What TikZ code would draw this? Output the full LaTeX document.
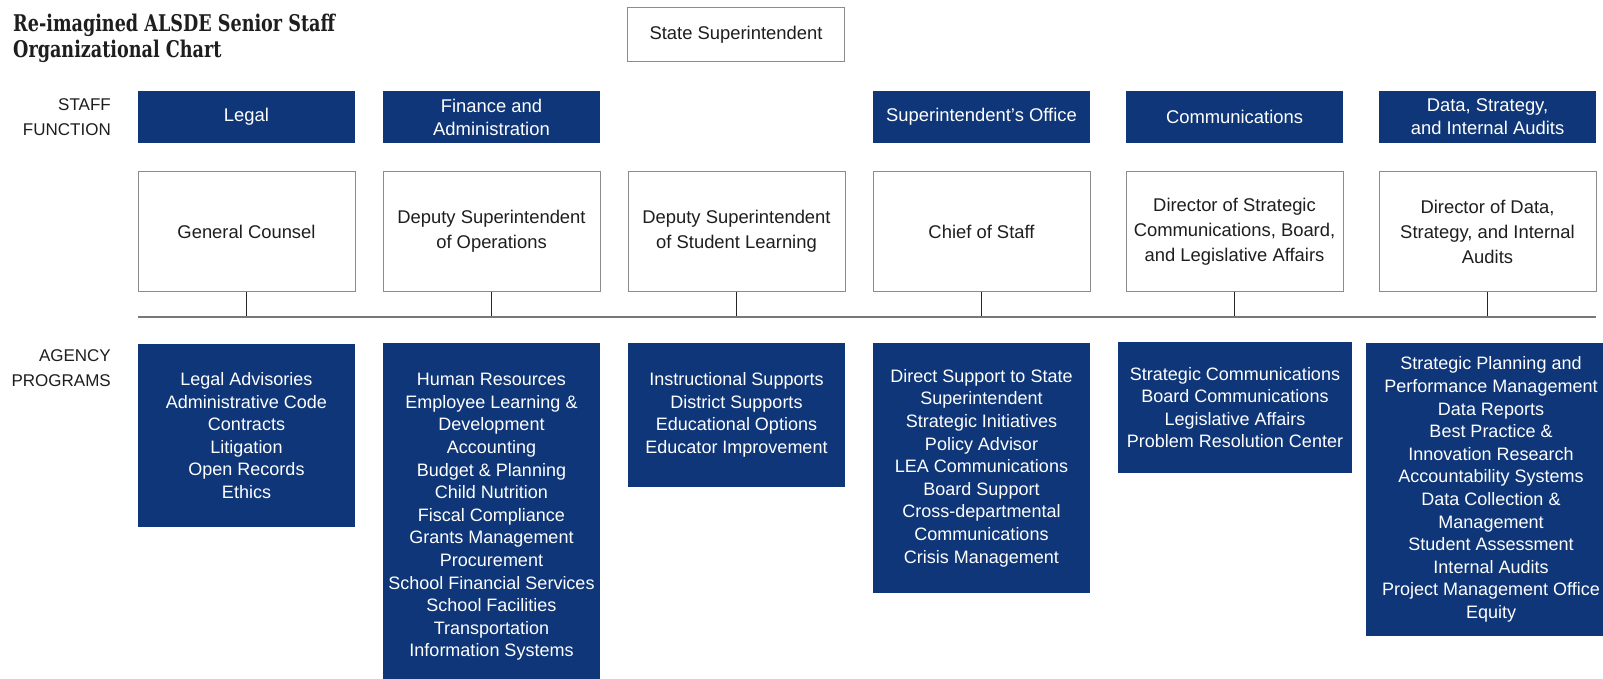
\documentclass[tikz,border=0pt]{standalone}
\usepackage{fontspec}
\setmainfont{Liberation Sans}
\newfontfamily\titlefont[FakeStretch=0.85]{DejaVu Serif Condensed}
\definecolor{navy}{RGB}{14,54,120}
\definecolor{boxline}{RGB}{140,140,140}
\definecolor{txt}{RGB}{30,30,30}
\definecolor{hline}{RGB}{120,120,120}
\begin{document}
\begin{tikzpicture}[x=1pt,y=-1pt,
  fnbox/.style={fill=navy, text=white, minimum width=217pt, minimum height=52pt, inner sep=0pt, align=center, font=\fontsize{18.4}{23}\selectfont},
  rolebox/.style={draw=boxline, line width=1pt, fill=white, text=txt, minimum width=217pt, minimum height=119pt, inner sep=0pt, align=center, font=\fontsize{18.4}{25}\selectfont},
  progbox/.style={fill=navy, text=white, minimum width=217pt, inner sep=0pt, align=center, font=\fontsize{18}{22.6}\selectfont},
  sidelabel/.style={anchor=east, align=right, text=txt, inner sep=0pt, font=\fontsize{17}{25.5}\selectfont},
  link/.style={draw=black!85, line width=1pt},
  bar/.style={draw=hline, line width=2pt}
]
\useasboundingbox (0,0) rectangle (1603,679);
\fill[white] (0,0) rectangle (1603,679);

\node[anchor=north west, inner sep=0pt, align=left, text=txt, font=\titlefont\bfseries\fontsize{23}{26}\selectfont] (title) at (13,13.5) {Re-imagined ALSDE Senior Staff\\Organizational Chart};

\node[rolebox, minimum height=54pt] (state) at (736,35) {State Superintendent};

\node[sidelabel] (staffl) at (111,117) {STAFF\\FUNCTION};
\node[sidelabel] (agencyl) at (111,368) {AGENCY\\PROGRAMS};

% staff function row
\node[fnbox] (legalF) at (246.5,117) {Legal};
\node[fnbox] (finF) at (491.5,117) {Finance and\\Administration};
\node[fnbox] (supF) at (981.5,117) {Superintendent's Office};
\node[fnbox] (commF) at (1234.5,117) {Communications};
\node[fnbox] (dataF) at (1487.5,117) {Data, Strategy,\\and Internal Audits};

% role row
\node[rolebox] (gc) at (246.5,231.5) {General Counsel};
\node[rolebox] (dso) at (491.5,231.5) {Deputy Superintendent\\of Operations};
\node[rolebox] (dsl) at (736.5,231.5) {Deputy Superintendent\\of Student Learning};
\node[rolebox] (cos) at (981.5,231.5) {Chief of Staff};
\node[rolebox] (dsc) at (1234.5,231.5) {Director of Strategic\\Communications, Board,\\and Legislative Affairs};
\node[rolebox] (dds) at (1487.5,231.5) {Director of Data,\\Strategy, and Internal\\Audits};

% connectors and bar
\coordinate (barL) at (138,317);
\coordinate (barR) at (1596,317);
\foreach \n in {gc,dso,dsl,cos,dsc,dds} \draw[link] (\n.south) -- (\n.south |- barL);
\draw[bar] (barL) -- (barR);

% agency programs
\node[progbox, minimum height=183pt] (p1) at (246.5,435.5) {Legal Advisories\\Administrative Code\\Contracts\\Litigation\\Open Records\\Ethics};
\node[progbox, minimum height=348pt] (p2) at (491.5,517) {Human Resources\\Employee Learning \&\\Development\\Accounting\\Budget \& Planning\\Child Nutrition\\Fiscal Compliance\\Grants Management\\Procurement\\School Financial Services\\School Facilities\\Transportation\\Information Systems};
\node[progbox, minimum height=144pt] (p3) at (736.5,415) {Instructional Supports\\District Supports\\Educational Options\\Educator Improvement};
\node[progbox, minimum height=250pt] (p4) at (981.5,468) {Direct Support to State\\Superintendent\\Strategic Initiatives\\Policy Advisor\\LEA Communications\\Board Support\\Cross-departmental\\Communications\\Crisis Management};
\node[progbox, minimum width=234pt, minimum height=131pt] (p5) at (1235,407.5) {Strategic Communications\\Board Communications\\Legislative Affairs\\Problem Resolution Center};
\node[progbox, minimum width=250pt, minimum height=293pt] (p6) at (1491,489.5) {Strategic Planning and\\Performance Management\\Data Reports\\Best Practice \&\\Innovation Research\\Accountability Systems\\Data Collection \&\\Management\\Student Assessment\\Internal Audits\\Project Management Office\\Equity};
\end{tikzpicture}
\end{document}
